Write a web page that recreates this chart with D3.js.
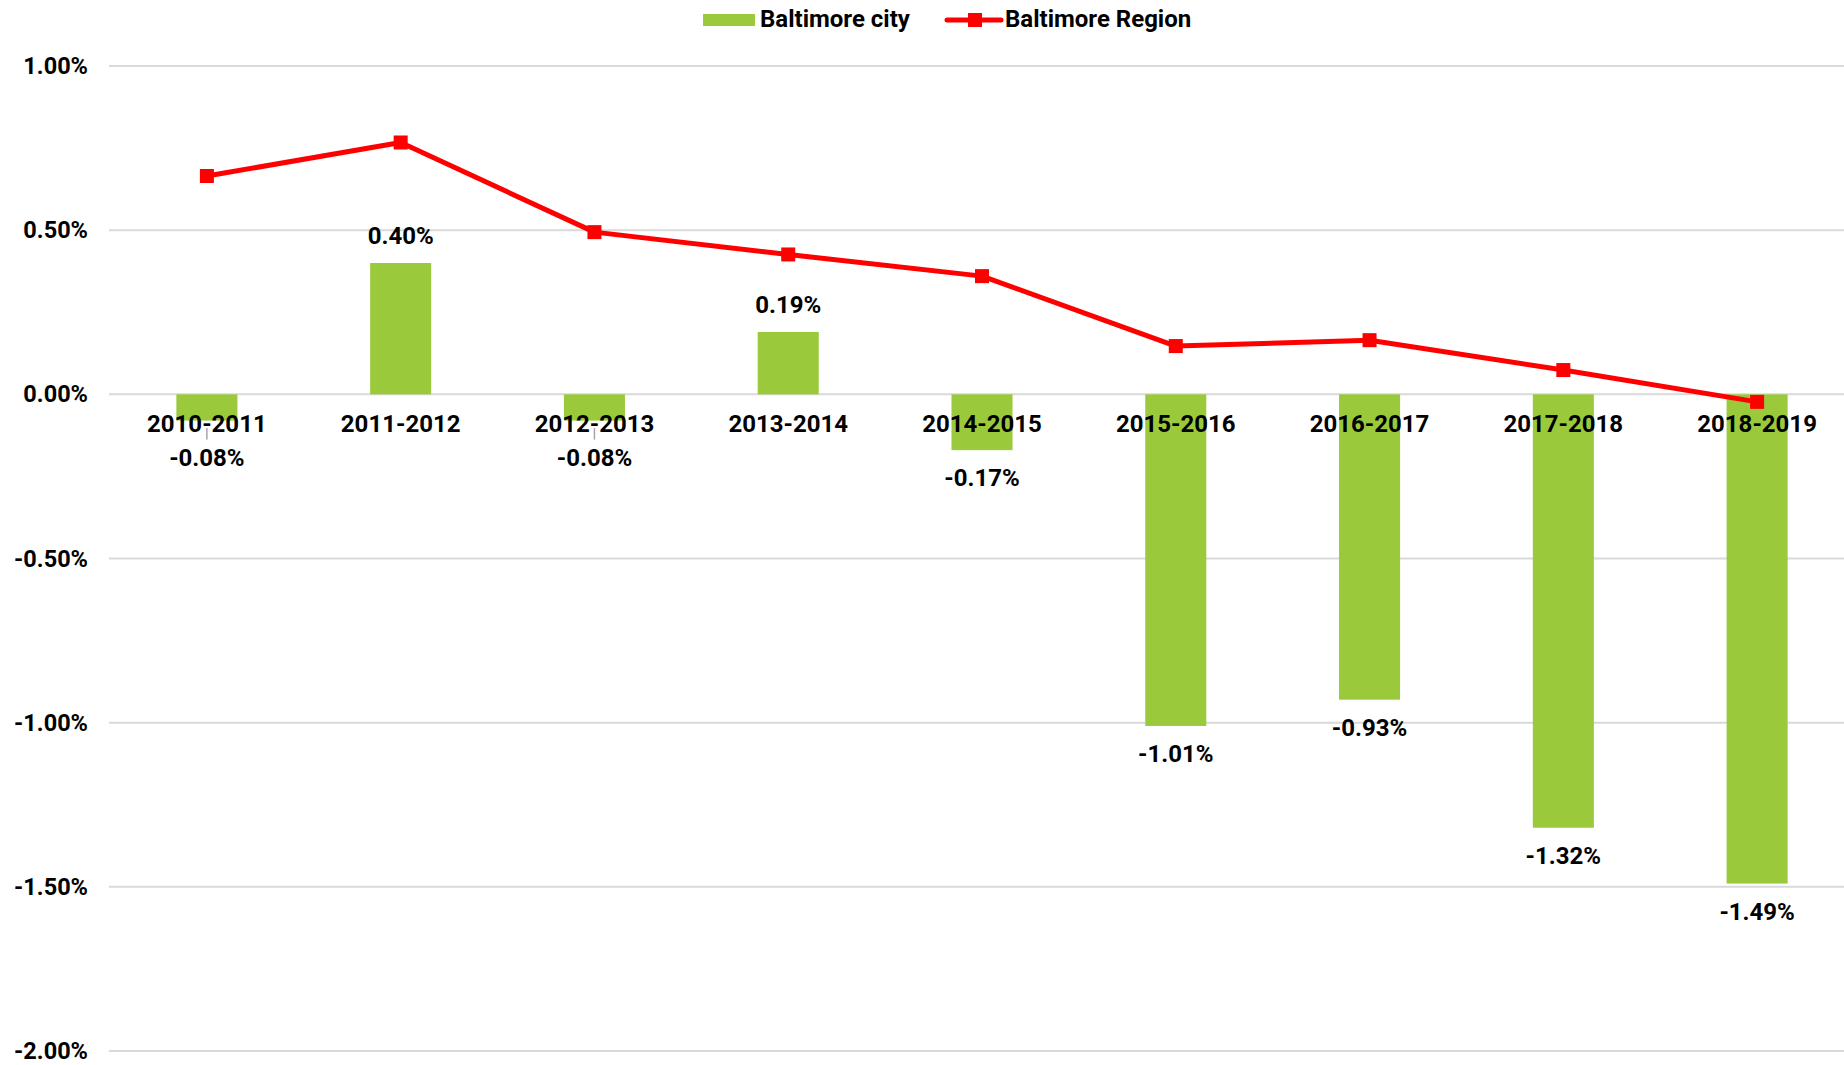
<!DOCTYPE html>
<html>
<head>
<meta charset="utf-8">
<script src="https://cdn.jsdelivr.net/npm/d3@7"></script>
<style>
  html, body { margin: 0; padding: 0; background: #ffffff; }
  svg { display: block; font-family: Roboto, "Liberation Sans", sans-serif; font-weight: bold; }
</style>
</head>
<body>
<svg id="chart" width="1844" height="1065"></svg>
<script>
const categories = ["2010-2011","2011-2012","2012-2013","2013-2014","2014-2015","2015-2016","2016-2017","2017-2018","2018-2019"];
const cityValues = [-0.08, 0.40, -0.08, 0.19, -0.17, -1.01, -0.93, -1.32, -1.49];
const regionValues = [0.665, 0.767, 0.494, 0.426, 0.360, 0.147, 0.165, 0.074, -0.023];
const yTicks = [1.0, 0.5, 0.0, -0.5, -1.0, -1.5, -2.0];
const seriesNames = ["Baltimore city", "Baltimore Region"];

const GREEN = "#9ACA3C", RED = "#FF0000", GRID = "#D9D9D9";
const svg = d3.select("#chart");
const pct = d => (d < 0 ? "-" : "") + Math.abs(d).toFixed(2) + "%";

const x = d3.scaleBand().domain(categories).range([110, 1854]).paddingInner(0.685).paddingOuter(0.3425);
const y = d3.scaleLinear().domain([-2, 1]).range([1051, 66]);
const cx = d => x(d) + x.bandwidth() / 2;

// gridlines
svg.append("g").selectAll("line").data(yTicks).join("line")
  .attr("x1", 109).attr("x2", 1844)
  .attr("y1", d => y(d)).attr("y2", d => y(d))
  .attr("stroke", GRID).attr("stroke-width", 2);

// y axis labels
const yAxis = d3.axisLeft(y).tickValues(yTicks).tickSize(0).tickPadding(0).tickFormat(pct);
const yg = svg.append("g").attr("transform", "translate(88,0)").call(yAxis);
yg.select(".domain").remove();
yg.selectAll("text").attr("font-size", 23.5).attr("font-weight", "bold")
  .attr("font-family", "Roboto, sans-serif").attr("fill", "#000");

// bars
svg.append("g").selectAll("rect").data(cityValues).join("rect")
  .attr("x", (d, i) => x(categories[i]))
  .attr("width", x.bandwidth())
  .attr("y", d => y(Math.max(0, d)))
  .attr("height", d => Math.abs(y(d) - y(0)))
  .attr("fill", GREEN);

// category labels
const catY = 432;
svg.append("g").selectAll("text").data(categories).join("text")
  .attr("x", d => cx(d)).attr("y", catY)
  .attr("text-anchor", "middle").attr("font-size", 24).attr("fill", "#000")
  .text(d => d);

// data labels for bars
const labelInfo = cityValues.map((v, i) => {
  const px = cx(categories[i]);
  if (v >= 0) return { px, py: y(v) - 19, moved: false, v };
  let py = y(v) + 19 + 17;
  let moved = false;
  if (py - 17 < catY + 10) { py += 9; moved = true; }
  return { px, py, moved, v };
});
svg.append("g").selectAll("line").data(labelInfo.filter(d => d.moved)).join("line")
  .attr("x1", d => d.px).attr("x2", d => d.px)
  .attr("y1", d => catY - 4).attr("y2", d => d.py - 26)
  .attr("stroke", "#A6A6A6").attr("stroke-width", 1.5);
svg.append("g").selectAll("text").data(labelInfo).join("text")
  .attr("x", d => d.px).attr("y", d => d.py)
  .attr("text-anchor", "middle").attr("font-size", 24).attr("fill", "#000")
  .text(d => pct(d.v));

// region line
const line = d3.line().x((d, i) => cx(categories[i])).y(d => y(d));
svg.append("path").datum(regionValues).attr("d", line)
  .attr("fill", "none").attr("stroke", RED).attr("stroke-width", 5).attr("stroke-linejoin", "round");
const ms = 14;
svg.append("g").selectAll("rect").data(regionValues).join("rect")
  .attr("x", (d, i) => cx(categories[i]) - ms / 2)
  .attr("y", d => y(d) - ms / 2)
  .attr("width", ms).attr("height", ms).attr("fill", RED);

// legend
const lg = svg.append("g");
lg.append("rect").attr("x", 703).attr("y", 14).attr("width", 52).attr("height", 12).attr("fill", GREEN);
lg.append("text").attr("x", 760).attr("y", 27).attr("font-size", 24).attr("fill", "#000").text(seriesNames[0]);
lg.append("line").attr("x1", 947).attr("x2", 1001).attr("y1", 20).attr("y2", 20)
  .attr("stroke", RED).attr("stroke-width", 5).attr("stroke-linecap", "round");
lg.append("rect").attr("x", 968).attr("y", 13).attr("width", 14).attr("height", 14).attr("fill", RED);
lg.append("text").attr("x", 1005).attr("y", 27).attr("font-size", 24).attr("fill", "#000").text(seriesNames[1]);
</script>
</body>
</html>
